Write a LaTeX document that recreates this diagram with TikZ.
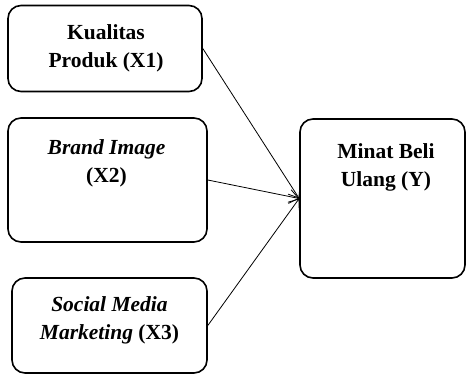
\documentclass[tikz,border=0pt]{standalone}
\usepackage{fontspec}
\setmainfont{Liberation Serif}
\usepackage{tikz}
\usetikzlibrary{arrows.meta}
\tikzset{>={Straight Barb[length=9pt,width=14pt]}}
\tikzset{
    varbox/.style={draw, line width=1.6pt, rounded corners=13pt},
    vartext/.style={align=center, font=\bfseries\fontsize{21.5}{28}\selectfont},
}

\begin{document}
\begin{tikzpicture}[x=1pt, y=-1pt]
    \useasboundingbox(0, 0)rectangle(467, 376);
    % variabel bebas
    \node[varbox, minimum width=194pt, minimum height=86pt](kp) at (105, 48.5) {};
    \node[varbox, minimum width=199pt, minimum height=124pt](bi) at (107.5, 180) {};
    \node[varbox, minimum width=195pt, minimum height=95pt](smm) at (109.5, 325.5) {};
    % variabel terikat
    \node[varbox, minimum width=165pt, minimum height=159pt](mbu) at (382.5, 198.5) {};
    \node[vartext](kpt) at (106, 48) {Kualitas\\Produk (X1)};
    \node[vartext](bit) at (106.5, 163) {\textit{Brand Image}\\(X2)};
    \node[vartext](smmt) at (109.5, 320) {\textit{Social Media}\\\textit{Marketing} (X3)};
    \node[vartext](mbut) at (386, 167) {Minat Beli\\Ulang (Y)};
    \draw[->, line width=.8pt](kp.east)--(mbu.west);
    \draw[->, line width=.8pt](bi.east)--(mbu.west);
    \draw[->, line width=.8pt](smm.east)--(mbu.west);
\end{tikzpicture}
\end{document}
